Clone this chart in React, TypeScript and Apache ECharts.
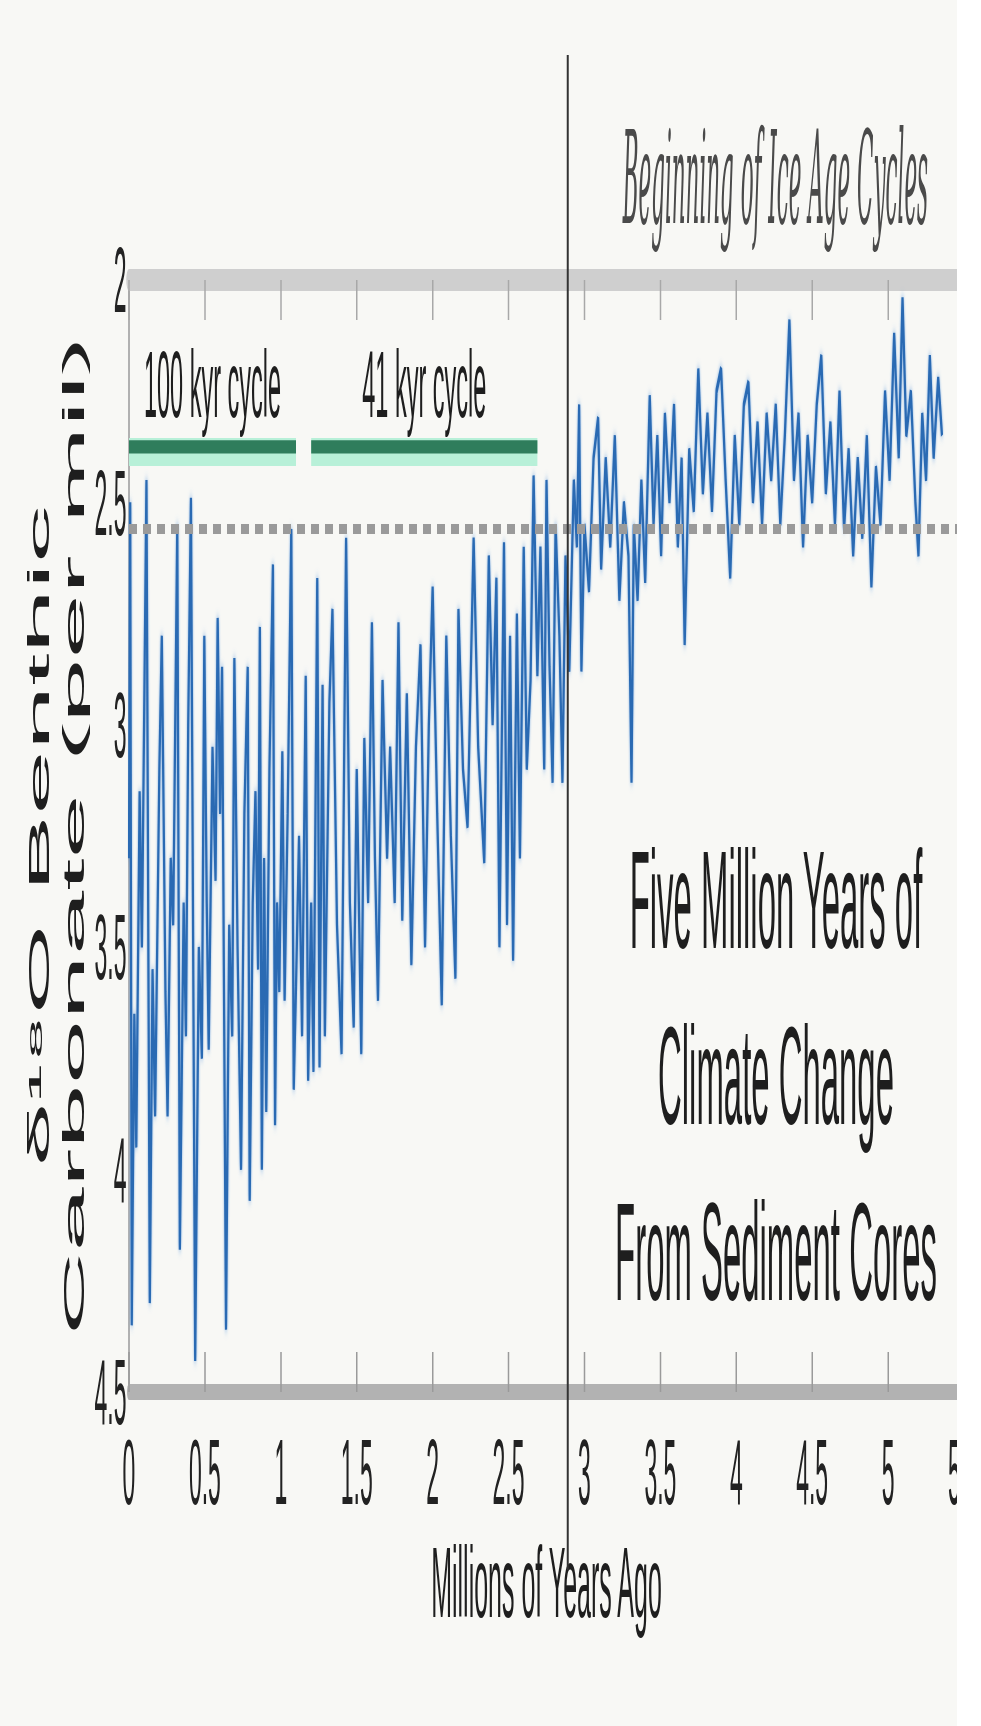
import React, { useEffect, useRef } from "react";
import * as echarts from "echarts";

// ---------- data ----------
const xTickStep = 0.5;
const xMin = 0;
const xMax = 5.5;
const yMin = 2;
const yMax = 4.5;
const yTickStep = 0.5;

// [age in Ma, δ18O per mil]
const record100kyr: [number, number][] = [
  [0.000, 3.30], [0.008, 2.50], [0.018, 4.35], [0.035, 3.65], [0.048, 3.95], [0.070, 3.15], [0.085, 3.50],
  [0.115, 2.45], [0.137, 4.30], [0.155, 3.55], [0.172, 3.88], [0.200, 3.10], [0.216, 2.80], [0.240, 3.60],
  [0.254, 3.88], [0.275, 3.30], [0.291, 3.45], [0.318, 2.55], [0.335, 4.18], [0.360, 3.40], [0.375, 3.70],
  [0.390, 3.00], [0.408, 2.49], [0.436, 4.43], [0.460, 3.50], [0.480, 3.75], [0.496, 2.80], [0.512, 3.40],
  [0.525, 3.73], [0.550, 3.05], [0.570, 3.35], [0.584, 2.76], [0.600, 3.20], [0.613, 2.87], [0.639, 4.36],
  [0.660, 3.45], [0.680, 3.70], [0.694, 2.85], [0.715, 3.50], [0.738, 4.00], [0.760, 3.20], [0.782, 2.87],
  [0.795, 4.07], [0.815, 3.40], [0.833, 3.15], [0.850, 3.55], [0.862, 2.78], [0.875, 4.00], [0.890, 3.30],
  [0.904, 3.87], [0.925, 3.10], [0.948, 2.64], [0.962, 3.90], [0.975, 3.40], [0.990, 3.60], [1.010, 3.06],
  [1.025, 3.62], [1.045, 3.20], [1.069, 2.56], [1.085, 3.82], [1.100, 3.59], [1.120, 3.25], [1.140, 3.70],
  [1.164, 2.89], [1.180, 3.80], [1.200, 3.40], [1.215, 3.78],
];

const record41kyr: [number, number][] = [
  [1.240, 2.67], [1.255, 3.77], [1.275, 2.91], [1.290, 3.70], [1.320, 2.95], [1.340, 2.74], [1.370, 3.45],
  [1.400, 3.74], [1.430, 2.58], [1.455, 3.40], [1.480, 3.68], [1.500, 3.10], [1.530, 3.74], [1.550, 3.03],
  [1.575, 3.40], [1.600, 2.77], [1.620, 3.30], [1.640, 3.62], [1.670, 2.90], [1.700, 3.30], [1.720, 3.05],
  [1.750, 3.40], [1.775, 2.77], [1.800, 3.44], [1.830, 2.93], [1.860, 3.54], [1.890, 3.05], [1.920, 2.82],
  [1.950, 3.50], [1.975, 3.00], [2.000, 2.69], [2.030, 3.20], [2.060, 3.63], [2.090, 2.80], [2.120, 3.25],
  [2.150, 3.57], [2.170, 2.74], [2.200, 3.10], [2.230, 3.23], [2.270, 2.58], [2.300, 3.05], [2.340, 3.31],
  [2.370, 2.62], [2.395, 3.00], [2.420, 2.67], [2.440, 3.50], [2.470, 2.59], [2.490, 3.45], [2.510, 2.80],
  [2.530, 3.53], [2.555, 2.75], [2.575, 3.30], [2.600, 2.60], [2.620, 3.10], [2.645, 2.90], [2.665, 2.44],
  [2.690, 2.89], [2.710, 2.60], [2.735, 3.10], [2.750, 2.45], [2.770, 2.87], [2.790, 3.13], [2.810, 2.55],
  [2.835, 2.80], [2.855, 3.13], [2.875, 2.62],
];

const recordPliocene: [number, number][] = [
  [2.900, 2.88], [2.930, 2.45], [2.950, 2.60], [2.965, 2.28], [2.980, 2.88], [3.000, 2.55], [3.030, 2.70],
  [3.060, 2.40], [3.090, 2.31], [3.110, 2.65], [3.140, 2.40], [3.170, 2.60], [3.200, 2.35], [3.230, 2.72],
  [3.260, 2.50], [3.290, 2.62], [3.310, 3.13], [3.325, 2.55], [3.350, 2.72], [3.375, 2.45], [3.400, 2.68],
  [3.430, 2.26], [3.455, 2.55], [3.480, 2.35], [3.505, 2.62], [3.530, 2.30], [3.560, 2.50], [3.590, 2.28],
  [3.615, 2.60], [3.640, 2.40], [3.660, 2.82], [3.690, 2.38], [3.720, 2.52], [3.750, 2.20], [3.780, 2.48],
  [3.810, 2.30], [3.840, 2.52], [3.870, 2.25], [3.900, 2.20], [3.930, 2.45], [3.960, 2.67], [3.990, 2.35],
  [4.020, 2.55], [4.050, 2.28], [4.080, 2.23], [4.110, 2.50], [4.140, 2.32], [4.170, 2.55], [4.200, 2.30],
  [4.230, 2.45], [4.260, 2.28], [4.290, 2.55], [4.320, 2.35], [4.350, 2.09], [4.380, 2.45], [4.410, 2.30],
  [4.440, 2.60], [4.470, 2.35], [4.500, 2.50], [4.530, 2.28], [4.560, 2.17], [4.590, 2.48], [4.620, 2.32],
  [4.650, 2.55], [4.680, 2.25], [4.710, 2.56], [4.740, 2.38], [4.770, 2.62], [4.800, 2.40], [4.830, 2.58],
  [4.860, 2.35], [4.890, 2.69], [4.920, 2.42], [4.950, 2.55], [4.980, 2.25], [5.010, 2.45], [5.040, 2.12],
  [5.070, 2.40], [5.095, 2.04], [5.120, 2.35], [5.150, 2.25], [5.180, 2.50], [5.200, 2.62], [5.225, 2.30],
  [5.250, 2.45], [5.275, 2.17], [5.300, 2.40], [5.330, 2.22], [5.355, 2.35],
];

const cycleNames = ["100 kyr cycle", "41 kyr cycle"];
const cycleFrom = [0, 1.2];
const cycleTo = [1.1, 2.69];
const cycleBandY = [2.355, 2.418];
const cycleCoreY = [2.36, 2.39];

const iceAgeOnset = 2.89;
const referenceLevel = 2.565;

const xAxisTitle = "Millions of Years Ago";
const yAxisTitle = "δ¹⁸O Benthic\nCarbonate (per mil)";
const onsetNote = "Beginning of Ice Age Cycles";
const titleLines = ["Five Million Years of", "Climate Change", "From Sediment Cores"];

// ---------- layout ----------
const K = 4; // the picture is horizontally compressed by this factor
const FULL_W = 981;
const FULL_H = 1726;
const CLIP_W = 957;
const FONT = "'Liberation Sans', Arial, Helvetica, sans-serif";

export default function App() {
  const ref = useRef<HTMLDivElement>(null);

  useEffect(() => {
    document.body.style.margin = "0";
    const chart = echarts.init(ref.current!, undefined, { renderer: "svg" });
    const record = [...record100kyr, ...record41kyr, ...recordPliocene];

    const areas: any[] = [];
    cycleNames.forEach((name, i) => {
      areas.push([
        {
          name,
          xAxis: cycleFrom[i],
          yAxis: cycleBandY[0],
          itemStyle: { color: "#b8f0d8" },
          label: {
            show: true,
            position: "top",
            distance: 6,
            fontSize: 94,
            color: "#1e1e1e",
            fontFamily: FONT,
          },
        },
        { xAxis: cycleTo[i], yAxis: cycleBandY[1] },
      ]);
    });
    cycleNames.forEach((_n, i) => {
      areas.push([
        { xAxis: cycleFrom[i], yAxis: cycleCoreY[0], itemStyle: { color: "#2f7d5c" }, label: { show: false } },
        { xAxis: cycleTo[i], yAxis: cycleCoreY[1] },
      ]);
    });

    chart.setOption({
      animation: false,
      backgroundColor: "#f8f8f5",
      grid: { left: 516, right: 68, top: 280, bottom: FULL_H - 1392 },
      xAxis: [
        {
          type: "value",
          min: xMin,
          max: xMax,
          interval: xTickStep,
          position: "bottom",
          name: xAxisTitle,
          nameLocation: "middle",
          nameGap: 140,
          nameTextStyle: { fontSize: 100, color: "#1e1e1e", fontFamily: FONT },
          axisLine: { show: true, onZero: false, lineStyle: { color: "#b2b2b2", width: 16 } },
          axisTick: { show: true, inside: true, length: 40, lineStyle: { color: "#9a9a9a", width: 6 } },
          axisLabel: { fontSize: 92, color: "#222", margin: 34, fontFamily: FONT, showMaxLabel: true },
          splitLine: { show: false },
        },
        {
          type: "value",
          min: xMin,
          max: xMax,
          interval: xTickStep,
          position: "top",
          axisLine: { show: true, onZero: false, lineStyle: { color: "#cfcfcf", width: 22 } },
          axisTick: { show: true, inside: true, length: 40, lineStyle: { color: "#a8a8a8", width: 6 } },
          axisLabel: { show: false },
          splitLine: { show: false },
        },
      ],
      yAxis: {
        type: "value",
        inverse: true,
        min: yMin,
        max: yMax,
        interval: yTickStep,
        name: yAxisTitle,
        nameLocation: "middle",
        nameRotate: 90,
        nameGap: 84,
        nameTextStyle: { fontSize: 116, lineHeight: 142, color: "#1e1e1e", fontFamily: FONT },
        axisLine: { show: true, onZero: false, lineStyle: { color: "#9a9a9a", width: 6 } },
        axisTick: { show: false },
        axisLabel: { fontSize: 92, color: "#222", margin: 10, fontFamily: FONT },
        splitLine: { show: false },
      },
      series: [
        {
          type: "line",
          xAxisIndex: 0,
          data: record,
          showSymbol: false,
          symbol: "none",
          silent: true,
          lineStyle: {
            color: "#2a6bb3",
            width: 9,
            shadowColor: "rgba(90,150,220,0.75)",
            shadowBlur: 10,
          },
          markLine: {
            silent: true,
            symbol: "none",
            label: { show: false },
            data: [{ yAxis: referenceLevel, lineStyle: { type: [32, 24], color: "#9a9a9a", width: 10 } }],
          },
          markArea: { silent: true, data: areas },
        },
      ],
    });

    const onsetX = chart.convertToPixel({ xAxisIndex: 0 }, iceAgeOnset) as number;
    chart.setOption({
      graphic: [
        {
          type: "line",
          z: 100,
          shape: { x1: onsetX, y1: 55, x2: onsetX, y2: 1570 },
          style: { stroke: "#333", lineWidth: 8 },
        },
        {
          type: "text",
          z: 100,
          x: onsetX + 55 * K,
          y: 178,
          scaleX: 0.66,
          style: {
            text: onsetNote,
            fontSize: 130,
            fontStyle: "italic",
            fontFamily: "'DejaVu Serif', serif",
            fill: "#4a4a4a",
            textAlign: "left",
            textVerticalAlign: "middle",
            verticalAlign: "middle",
          },
        },
        ...titleLines.map((t, i) => ({
          type: "text",
          z: 100,
          x: 776 * K,
          y: 900 + i * 176,
          scaleX: 0.94,
          style: {
            text: t,
            fontSize: 140,
            fontFamily: FONT,
            fill: "#1e1e1e",
            textAlign: "center",
            textVerticalAlign: "middle",
            verticalAlign: "middle",
          },
        })),
      ],
    });

    return () => chart.dispose();
  }, []);

  return (
    <div style={{ position: "absolute", left: 0, top: 0, width: CLIP_W, height: FULL_H, overflow: "hidden" }}>
      <div
        ref={ref}
        style={{
          width: FULL_W * K,
          height: FULL_H,
          transform: `scaleX(${1 / K})`,
          transformOrigin: "0 0",
        }}
      />
    </div>
  );
}
